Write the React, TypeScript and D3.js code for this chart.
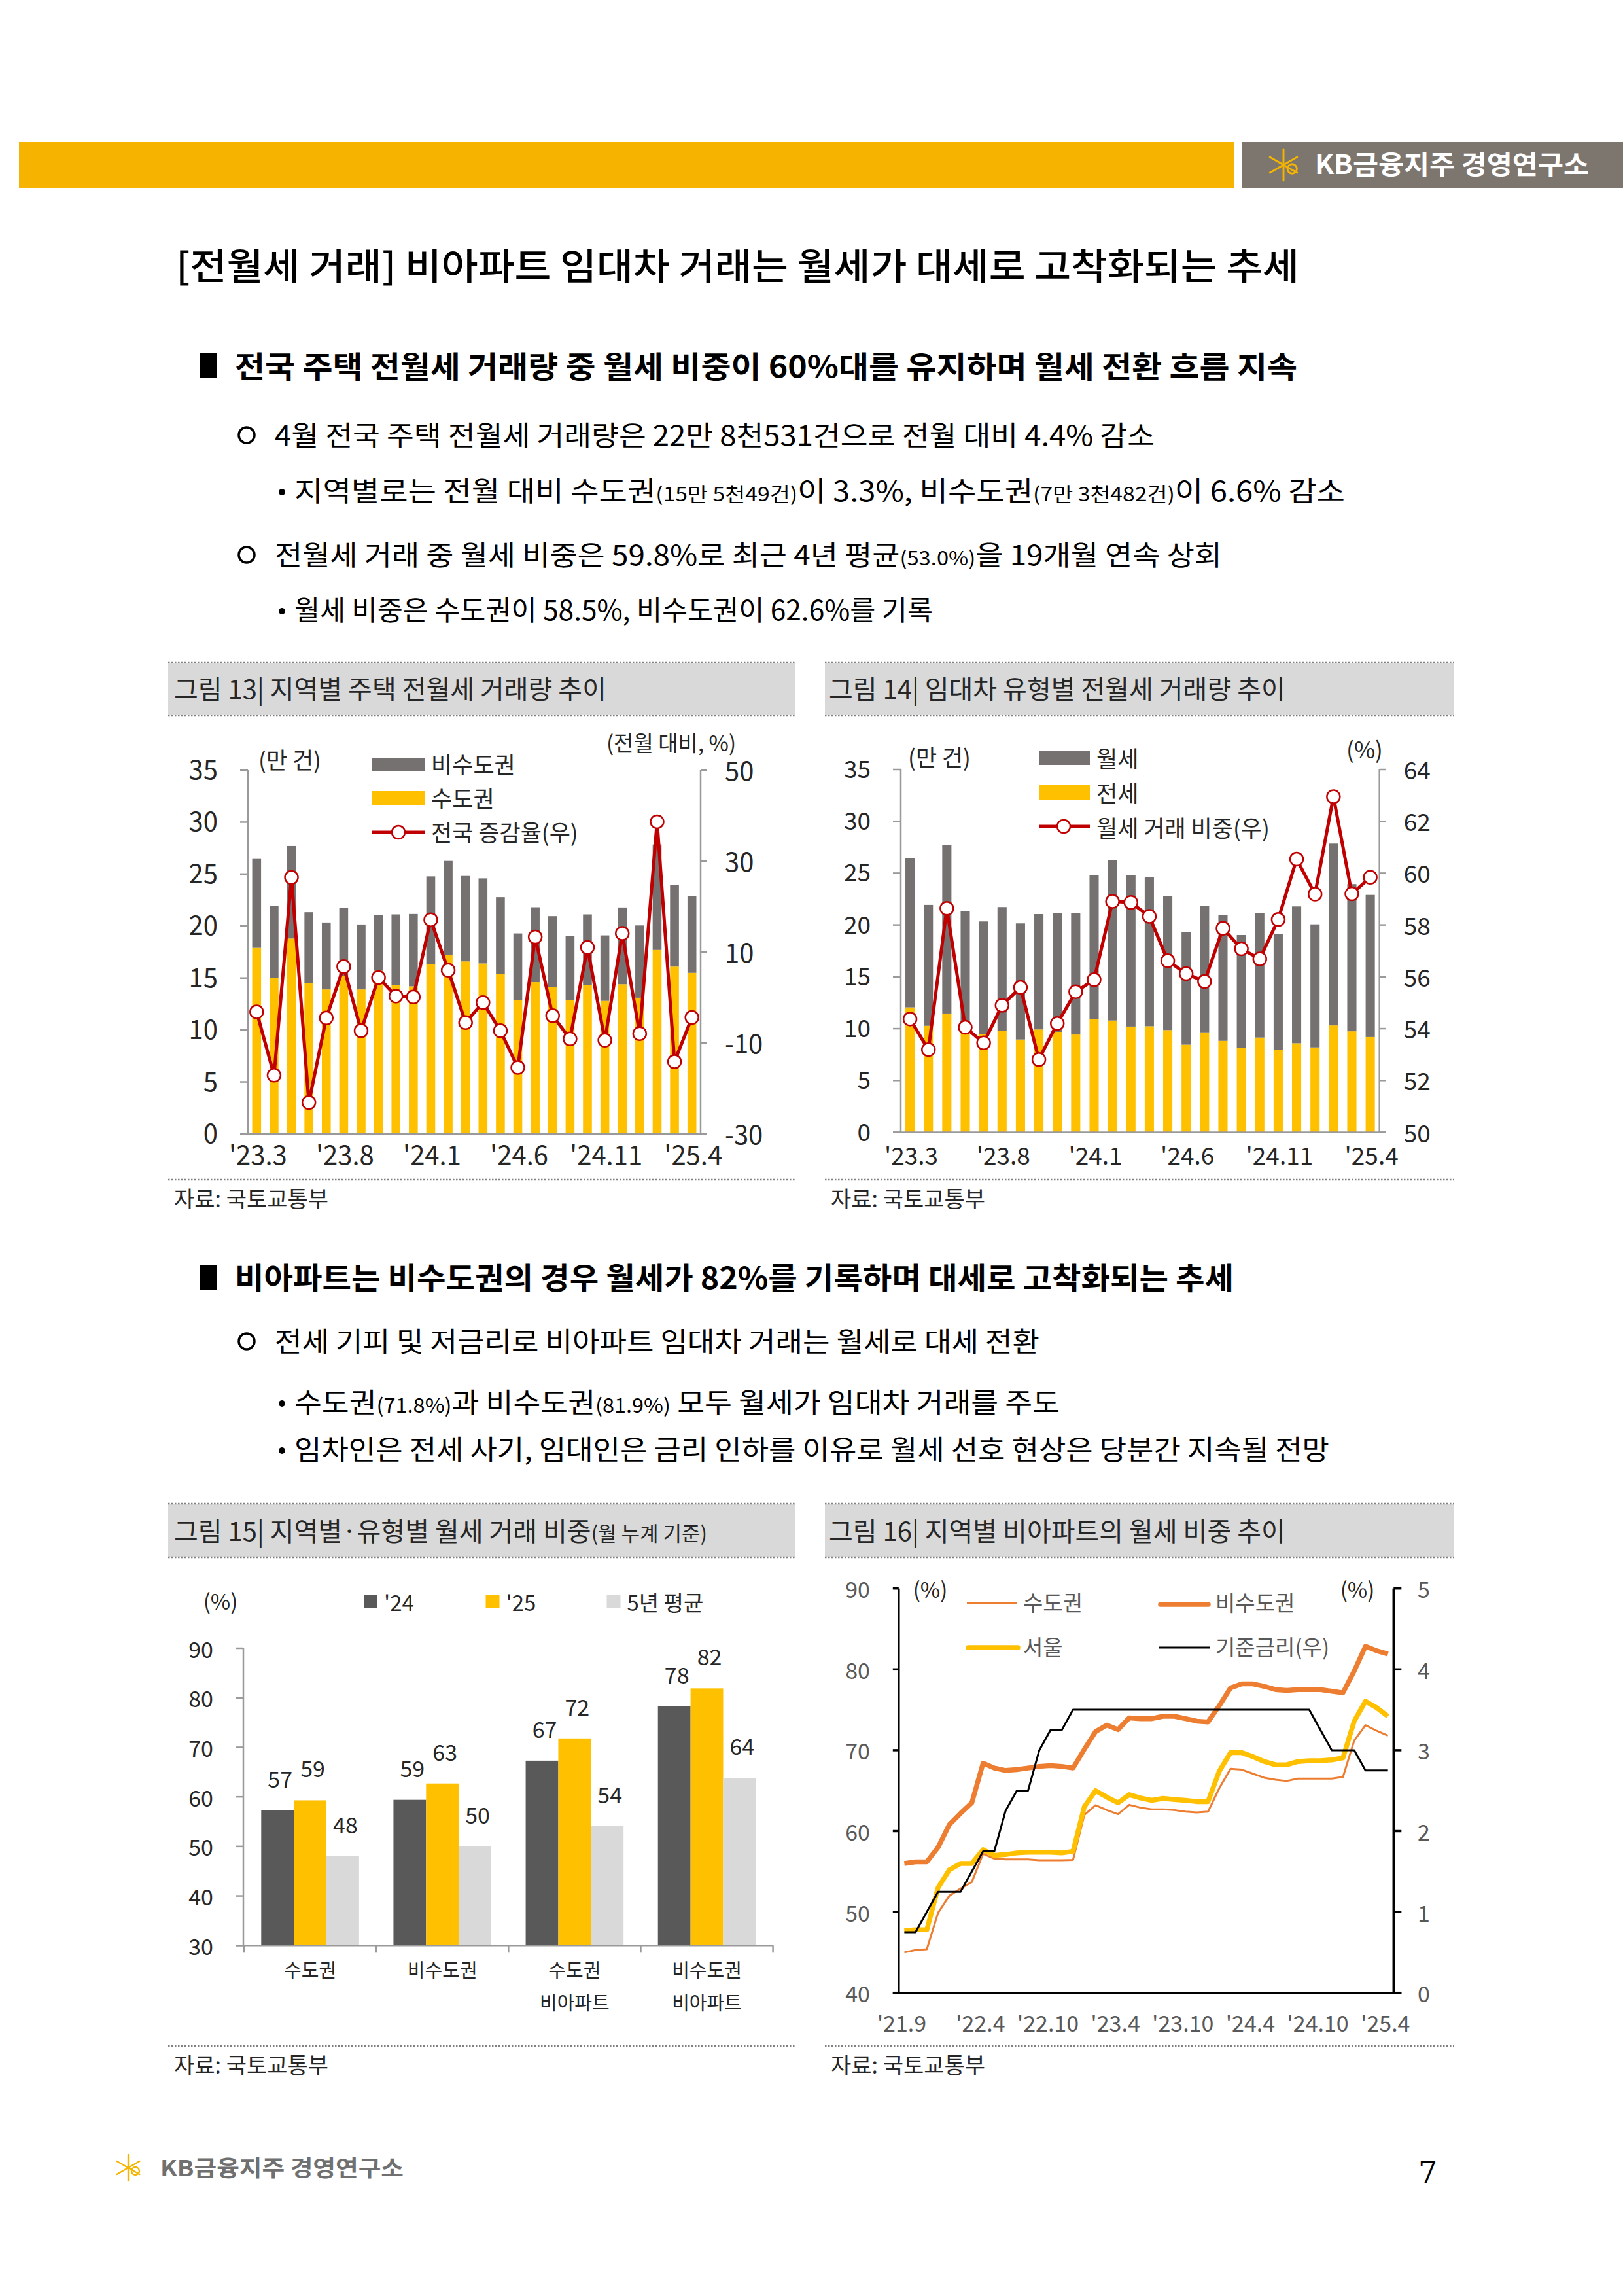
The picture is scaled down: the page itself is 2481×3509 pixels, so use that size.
import React, { useEffect } from 'react';
import * as d3 from 'd3';

const FONT = "'Noto Sans CJK KR', 'Noto Sans', sans-serif";

// ---------------- data: 그림 13 / 14 ----------------
const months13 = ["'23.3", "'23.4", "'23.5", "'23.6", "'23.7", "'23.8", "'23.9", "'23.10", "'23.11", "'23.12", "'24.1", "'24.2", "'24.3", "'24.4", "'24.5", "'24.6", "'24.7", "'24.8", "'24.9", "'24.10", "'24.11", "'24.12", "'25.1", "'25.2", "'25.3", "'25.4"];
const tickMonths13 = ["'23.3", "'23.8", "'24.1", "'24.6", "'24.11", "'25.4"];
// 만 건
const capitalDeals = [17.9, 15.0, 18.8, 14.5, 13.9, 15.2, 13.9, 15.7, 14.3, 14.2, 16.35, 17.2, 16.6, 16.4, 15.4, 12.9, 14.6, 14.1, 12.85, 14.35, 12.8, 14.4, 13.1, 17.7, 16.1, 15.5];
const nonCapitalDeals = [8.56, 6.94, 8.9, 6.83, 6.44, 6.53, 6.25, 5.35, 6.82, 6.96, 8.43, 9.07, 8.22, 8.19, 7.38, 6.39, 7.21, 6.85, 6.18, 6.77, 6.3, 7.39, 6.96, 10.15, 7.84, 7.35];
// 전월 대비 %
const nationalGrowth = [-3.15, -17.1, 26.4, -23.1, -4.5, 6.8, -7.3, 4.4, 0.3, 0.1, 17.1, 6.0, -5.5, -1.1, -7.3, -15.4, 13.3, -4.0, -9.1, 11.0, -9.4, 14.1, -7.95, 38.65, -14.1, -4.4];
// 그림 14
const jeonseDeals = [12.05, 10.27, 11.46, 9.8, 9.48, 9.79, 8.95, 9.92, 9.69, 9.43, 10.91, 10.78, 10.2, 10.23, 9.86, 8.45, 9.64, 8.82, 8.17, 9.14, 7.98, 8.59, 8.19, 10.31, 9.74, 9.19];
const wolseDeals = [14.41, 11.67, 16.24, 11.53, 10.86, 11.94, 11.2, 11.13, 11.43, 11.73, 13.87, 15.49, 14.62, 14.36, 12.92, 10.84, 12.17, 12.13, 10.86, 11.98, 11.12, 13.2, 11.87, 17.54, 14.2, 13.71];
const wolseShare = [54.37, 53.19, 58.64, 54.05, 53.45, 54.9, 55.59, 52.81, 54.2, 55.42, 55.89, 58.91, 58.87, 58.33, 56.62, 56.12, 55.82, 57.87, 57.08, 56.69, 58.21, 60.54, 59.19, 62.95, 59.2, 59.84];

// ---------------- data: 그림 15 ----------------
const cats15 = [['수도권'], ['비수도권'], ['수도권', '비아파트'], ['비수도권', '비아파트']];
const keys15 = ["'24", "'25", '5년 평균'];
const share24 = [57.3, 59.4, 67.3, 78.3];
const share25 = [59.3, 62.7, 71.8, 81.9];
const share5y = [48.0, 50.0, 54.1, 63.8];

// ---------------- data: 그림 16 ----------------
const months16 = ["'21.9", "'21.10", "'21.11", "'21.12", "'22.1", "'22.2", "'22.3", "'22.4", "'22.5", "'22.6", "'22.7", "'22.8", "'22.9", "'22.10", "'22.11", "'22.12", "'23.1", "'23.2", "'23.3", "'23.4", "'23.5", "'23.6", "'23.7", "'23.8", "'23.9", "'23.10", "'23.11", "'23.12", "'24.1", "'24.2", "'24.3", "'24.4", "'24.5", "'24.6", "'24.7", "'24.8", "'24.9", "'24.10", "'24.11", "'24.12", "'25.1", "'25.2", "'25.3", "'25.4"];
const tickMonths16 = ["'21.9", "'22.4", "'22.10", "'23.4", "'23.10", "'24.4", "'24.10", "'25.4"];
const capital16 = [45.0, 45.3, 45.4, 49.9, 52.0, 52.9, 53.7, 57.2, 56.6, 56.5, 56.5, 56.5, 56.4, 56.4, 56.4, 56.45, 62.0, 63.2, 62.6, 62.1, 63.25, 62.9, 62.7, 62.7, 62.6, 62.4, 62.3, 62.4, 65.3, 67.7, 67.6, 67.1, 66.6, 66.35, 66.2, 66.5, 66.5, 66.5, 66.5, 66.7, 71.2, 73.1, 72.4, 71.8];
const nonCapital16 = [56.0, 56.2, 56.2, 58.0, 60.8, 62.2, 63.5, 68.4, 67.8, 67.5, 67.6, 67.8, 68.0, 68.1, 68.0, 67.8, 70.1, 72.3, 73.1, 72.55, 74.0, 73.9, 73.9, 74.2, 74.2, 73.9, 73.6, 73.5, 75.5, 77.7, 78.2, 78.2, 77.9, 77.5, 77.4, 77.5, 77.5, 77.5, 77.3, 77.1, 79.8, 82.85, 82.3, 81.9];
const seoul16 = [47.7, 47.8, 47.8, 53.0, 55.2, 56.0, 56.0, 57.7, 57.0, 57.1, 57.3, 57.4, 57.4, 57.4, 57.3, 57.5, 63.0, 65.0, 64.2, 63.5, 64.5, 64.1, 63.8, 64.05, 63.9, 63.8, 63.65, 63.65, 67.4, 69.7, 69.7, 69.2, 68.6, 68.2, 68.2, 68.6, 68.7, 68.7, 68.8, 69.05, 73.6, 76.05, 75.25, 74.2];
const baseRate16 = [0.75, 0.75, 1.0, 1.25, 1.25, 1.25, 1.5, 1.75, 1.75, 2.25, 2.5, 2.5, 3.0, 3.25, 3.25, 3.5, 3.5, 3.5, 3.5, 3.5, 3.5, 3.5, 3.5, 3.5, 3.5, 3.5, 3.5, 3.5, 3.5, 3.5, 3.5, 3.5, 3.5, 3.5, 3.5, 3.5, 3.5, 3.25, 3.0, 3.0, 3.0, 2.75, 2.75, 2.75];

// ---------------- colors ----------------
const GRAY_BAR = '#767171';
const YELLOW = '#FFC000';
const RED = '#C00000';
const AXIS = '#9A9A9A';
const TXT = '#262626';
const ORANGE = '#ED7D31';

type ComboProps = {
  left: number; right: number; top: number; bottom: number;
  lower: number[]; upper: number[]; line: number[];
  rDomain: [number, number]; rTicks: number[];
  tickFont: number; pad: number; xLabelY: number;
};

function ComboChart(p: ComboProps) {
  const x = d3.scaleBand<string>().domain(months13).range([p.left, p.right]).paddingInner(p.pad).paddingOuter(p.pad / 2);
  const yL = d3.scaleLinear().domain([0, 35]).range([p.bottom, p.top]);
  const yR = d3.scaleLinear().domain(p.rDomain).range([p.bottom, p.top]);
  const rows = months13.map((m, i) => ({ m, lower: p.lower[i], upper: p.upper[i] }));
  const stacked = d3.stack<any>().keys(['lower', 'upper'])(rows);
  const cx = (m: string) => (x(m) as number) + x.bandwidth() / 2;
  const lineGen = d3.line<number>().x((_, i) => cx(months13[i])).y((v) => yR(v));
  const colors = [YELLOW, GRAY_BAR];
  return (
    <g fontFamily={FONT}>
      {stacked.map((s, si) => (
        <g key={si} fill={colors[si]}>
          {s.map((d: any, i: number) => (
            <rect key={i} x={x(months13[i])} width={x.bandwidth()} y={yL(d[1])} height={yL(d[0]) - yL(d[1])} />
          ))}
        </g>
      ))}
      <g stroke={AXIS} strokeWidth={2.5} fill="none">
        <line x1={p.left} x2={p.left} y1={p.top} y2={p.bottom} />
        <line x1={p.right} x2={p.right} y1={p.top} y2={p.bottom} />
        <line x1={p.left - 12} x2={p.right + 10} y1={p.bottom} y2={p.bottom} />
        {yL.ticks(7).map((t) => (
          <line key={'l' + t} x1={p.left - 12} x2={p.left} y1={yL(t)} y2={yL(t)} />
        ))}
        {p.rTicks.map((t) => (
          <line key={'r' + t} x1={p.right} x2={p.right + 10} y1={yR(t)} y2={yR(t)} />
        ))}
      </g>
      <g fontSize={p.tickFont} fill={TXT}>
        {yL.ticks(7).map((t) => (
          <text key={'lt' + t} x={p.left - 46} y={yL(t) - 3} textAnchor="end" dominantBaseline="central">{t}</text>
        ))}
        {p.rTicks.map((t) => (
          <text key={'rt' + t} x={p.right + 37} y={yR(t) - 1} textAnchor="start" dominantBaseline="central">{t}</text>
        ))}
        {tickMonths13.map((m) => (
          <text key={m} x={cx(m) + 2} y={p.xLabelY} textAnchor="middle">{m}</text>
        ))}
      </g>
      <path d={lineGen(p.line) || ''} fill="none" stroke={RED} strokeWidth={5} strokeLinejoin="round" />
      {p.line.map((v, i) => (
        <circle key={i} cx={cx(months13[i])} cy={yR(v)} r={10} fill="#fff" stroke={RED} strokeWidth={2.5} />
      ))}
    </g>
  );
}

function Chart15() {
  const left = 372, right = 1181.6, top = 2519, bottom = 2973.3;
  const x0 = d3.scaleBand<number>().domain(d3.range(cats15.length)).range([373, right]).paddingInner(0.26).paddingOuter(0.13);
  const x1 = d3.scaleBand<string>().domain(keys15).range([0, x0.bandwidth()]);
  const y = d3.scaleLinear().domain([30, 90]).range([bottom, top]);
  const series = [share24, share25, share5y];
  const colors = ['#595959', YELLOW, '#D9D9D9'];
  const fmt = d3.format('.0f');
  return (
    <g fontFamily={FONT}>
      {series.map((vals, si) => (
        <g key={si}>
          {vals.map((v, ci) => {
            const bx = (x0(ci) as number) + (x1(keys15[si]) as number);
            return (
              <g key={ci}>
                <rect x={bx} width={x1.bandwidth()} y={y(v)} height={y(30) - y(v)} fill={colors[si]} />
                <text x={bx + x1.bandwidth() / 2 + 4} y={y(v) - 35} textAnchor="middle" fontSize={34} fill={TXT}>{fmt(v)}</text>
              </g>
            );
          })}
        </g>
      ))}
      <g stroke={AXIS} strokeWidth={2.5}>
        <line x1={left} x2={left} y1={top} y2={bottom} />
        <line x1={left - 11} x2={right} y1={bottom} y2={bottom} />
        {y.ticks(6).map((t) => <line key={t} x1={left - 11} x2={left} y1={y(t)} y2={y(t)} />)}
        {d3.range(cats15.length + 1).map((i) => {
          const bx = i < cats15.length ? (x0(i) as number) - x0.step() * 0.13 : right;
          return <line key={'c' + i} x1={bx} x2={bx} y1={bottom} y2={bottom + 11} />;
        })}
      </g>
      <g fontSize={34} fill={TXT}>
        {y.ticks(6).map((t) => (
          <text key={t} x={326} y={y(t)} textAnchor="end" dominantBaseline="central">{t}</text>
        ))}
      </g>
      <g fontSize={29} fill={TXT}>
        {cats15.map((lines, ci) => (
          <text key={ci} x={(x0(ci) as number) + x0.bandwidth() / 2} y={3022} textAnchor="middle">
            {lines.map((l, li) => (
              <tspan key={li} x={(x0(ci) as number) + x0.bandwidth() / 2} y={3022 + li * 50}>{l}</tspan>
            ))}
          </text>
        ))}
      </g>
      <g fontSize={33} fill={TXT}>
        <text x={337} y={2446} textAnchor="middle" dominantBaseline="central">(%)</text>
        {keys15.map((k, i) => {
          const lx = [556, 742.5, 927.5][i];
          return (
            <g key={k}>
              <rect x={lx} y={2438} width={21} height={20} fill={colors[i]} />
              <text x={lx + 31} y={2448} dominantBaseline="central">{k}</text>
            </g>
          );
        })}
      </g>
    </g>
  );
}

function Chart16() {
  const left = 1373.8, right = 2130.3, top = 2427.7, bottom = 3045.7;
  const x = d3.scaleBand<string>().domain(months16).range([left, right]);
  const cx = (m: string) => (x(m) as number) + x.bandwidth() / 2;
  const yL = d3.scaleLinear().domain([40, 90]).range([bottom, top]);
  const yR = d3.scaleLinear().domain([0, 5]).range([bottom, top]);
  const lineL = d3.line<number>().x((_, i) => cx(months16[i])).y((v) => yL(v));
  const lineR = d3.line<number>().x((_, i) => cx(months16[i])).y((v) => yR(v));
  const LG = '#595959';
  return (
    <g fontFamily={FONT}>
      <path d={lineL(capital16) || ''} fill="none" stroke={ORANGE} strokeWidth={3} strokeLinejoin="round" />
      <path d={lineL(nonCapital16) || ''} fill="none" stroke={ORANGE} strokeWidth={7.5} strokeLinejoin="round" />
      <path d={lineL(seoul16) || ''} fill="none" stroke={YELLOW} strokeWidth={7.5} strokeLinejoin="round" />
      <path d={lineR(baseRate16) || ''} fill="none" stroke="#000" strokeWidth={3} strokeLinejoin="round" />
      <g stroke="#000" strokeWidth={3.5}>
        <line x1={left} x2={left} y1={top} y2={bottom} />
        <line x1={right} x2={right} y1={top} y2={bottom} />
        <line x1={left - 9} x2={right + 12} y1={bottom} y2={bottom} />
        {yL.ticks(5).map((t) => <line key={'l' + t} x1={left - 9} x2={left} y1={yL(t)} y2={yL(t)} />)}
        {yR.ticks(5).map((t) => <line key={'r' + t} x1={right} x2={right + 12} y1={yR(t)} y2={yR(t)} />)}
      </g>
      <g fontSize={34} fill={LG}>
        {yL.ticks(5).map((t) => (
          <text key={'lt' + t} x={1330} y={yL(t)} textAnchor="end" dominantBaseline="central">{t}</text>
        ))}
        {yR.ticks(5).map((t) => (
          <text key={'rt' + t} x={2167} y={yR(t)} textAnchor="start" dominantBaseline="central">{t}</text>
        ))}
        {tickMonths16.map((m) => (
          <text key={m} x={cx(m) - 4} y={3105} textAnchor="middle">{m}</text>
        ))}
      </g>
      <g fontSize={33} fill={LG}>
        <text x={1422} y={2428} textAnchor="middle" dominantBaseline="central" fill={TXT}>(%)</text>
        <text x={2075} y={2428} textAnchor="middle" dominantBaseline="central" fill={TXT}>(%)</text>
        <line x1={1478} x2={1555} y1={2450} y2={2450} stroke={ORANGE} strokeWidth={3} />
        <text x={1564} y={2448} dominantBaseline="central">수도권</text>
        <line x1={1774} x2={1847} y1={2452} y2={2452} stroke={ORANGE} strokeWidth={7.5} strokeLinecap="round" />
        <text x={1858} y={2448} dominantBaseline="central">비수도권</text>
        <line x1={1480} x2={1556} y1={2518} y2={2518} stroke={YELLOW} strokeWidth={7.5} strokeLinecap="round" />
        <text x={1564} y={2516} dominantBaseline="central">서울</text>
        <line x1={1771} x2={1849} y1={2518} y2={2518} stroke="#000" strokeWidth={3} />
        <text x={1858} y={2516} dominantBaseline="central">기준금리(우)</text>
      </g>
    </g>
  );
}

function TitleBox({ x, w, y, children }: { x: number; w: number; y: number; children: React.ReactNode }) {
  return (
    <g>
      <rect x={x} y={y} width={w} height={80} fill="#D9D9D9" />
      <line x1={x} x2={x + w} y1={y - 1} y2={y - 1} stroke="#7F7F7F" strokeWidth={2.5} strokeDasharray="2.5 2.5" />
      <line x1={x} x2={x + w} y1={y + 81} y2={y + 81} stroke="#7F7F7F" strokeWidth={2.5} strokeDasharray="2.5 2.5" />
      {children}
    </g>
  );
}

function SourceLine({ x, w, y }: { x: number; w: number; y: number }) {
  return (
    <g>
      <line x1={x} x2={x + w} y1={y} y2={y} stroke="#7F7F7F" strokeWidth={2.5} strokeDasharray="2.5 2.5" />
      <text x={x + 9} y={y + 42} fontSize={34} fill={TXT} fontFamily={FONT}>자료: 국토교통부</text>
    </g>
  );
}

function Star({ cx, cy, s }: { cx: number; cy: number; s: number }) {
  const angles = [90, 30, -30];
  return (
    <g stroke="#F4B400" strokeWidth={s * 0.12} strokeLinecap="round" fill="none">
      {angles.map((a) => {
        const r = (a * Math.PI) / 180;
        return <line key={a} x1={cx - Math.cos(r) * s} y1={cy - Math.sin(r) * s} x2={cx + Math.cos(r) * s} y2={cy + Math.sin(r) * s} />;
      })}
      <circle cx={cx + s * 0.55} cy={cy + s * 0.25} r={s * 0.3} />
    </g>
  );
}

export default function App() {
  useEffect(() => {
    document.body.style.margin = '0';
    document.body.style.overflow = 'hidden';
  }, []);
  const small = 30;
  return (
    <svg width={2481} height={3509} viewBox="0 0 2481 3509" style={{ display: 'block', background: '#fff' }} fontFamily={FONT}>
      <rect x={0} y={0} width={2481} height={3509} fill="#fff" />
      {/* header band */}
      <rect x={29} y={217} width={1858} height={71} fill="#F6B400" />
      <rect x={1899} y={217} width={582} height={71} fill="#7D766E" />
      <Star cx={1962} cy={252} s={24} />
      <text x={2010} y={266} fontSize={40} fontWeight={700} fill="#fff" textLength={419} lengthAdjust="spacingAndGlyphs">KB금융지주 경영연구소</text>

      {/* page title */}
      <text x={269} y={427} fontSize={56} fontWeight={500} fill="#000" textLength={1717} lengthAdjust="spacingAndGlyphs">[전월세 거래] 비아파트 임대차 거래는 월세가 대세로 고착화되는 추세</text>

      {/* section 1 */}
      <rect x={305} y={540} width={27} height={38} fill="#000" />
      <text x={359} y={577} fontSize={46} fontWeight={700} fill="#000" textLength={1624} lengthAdjust="spacingAndGlyphs">전국 주택 전월세 거래량 중 월세 비중이 60%대를 유지하며 월세 전환 흐름 지속</text>
      <circle cx={377} cy={665} r={12} fill="none" stroke="#000" strokeWidth={3.5} />
      <text x={420} y={681} fontSize={42} fill="#000" textLength={1345} lengthAdjust="spacingAndGlyphs">4월 전국 주택 전월세 거래량은 22만 8천531건으로 전월 대비 4.4% 감소</text>
      <circle cx={431} cy={752} r={5} fill="#000" />
      <text x={450} y={766} fontSize={42} fill="#000" textLength={1606} lengthAdjust="spacingAndGlyphs">지역별로는 전월 대비 수도권<tspan fontSize={small}>(15만 5천49건)</tspan>이 3.3%, 비수도권<tspan fontSize={small}>(7만 3천482건)</tspan>이 6.6% 감소</text>
      <circle cx={377} cy={848} r={12} fill="none" stroke="#000" strokeWidth={3.5} />
      <text x={420} y={864} fontSize={42} fill="#000" textLength={1448} lengthAdjust="spacingAndGlyphs">전월세 거래 중 월세 비중은 59.8%로 최근 4년 평균<tspan fontSize={small}>(53.0%)</tspan>을 19개월 연속 상회</text>
      <circle cx={431} cy={934} r={5} fill="#000" />
      <text x={450} y={948} fontSize={42} fill="#000" textLength={976} lengthAdjust="spacingAndGlyphs">월세 비중은 수도권이 58.5%, 비수도권이 62.6%를 기록</text>

      {/* chart 13 */}
      <TitleBox x={257} w={958} y={1013}>
        <text x={266} y={1068} fontSize={40} fill={TXT}>그림 13| 지역별 주택 전월세 거래량 추이</text>
      </TitleBox>
      <ComboChart left={379} right={1071} top={1177} bottom={1733} lower={capitalDeals} upper={nonCapitalDeals} line={nationalGrowth}
        rDomain={[-30, 50]} rTicks={[-30, -10, 10, 30, 50]} tickFont={40} pad={0.49} xLabelY={1780} />
      <g fontSize={35} fill={TXT}>
        <text x={443} y={1159} textAnchor="middle" dominantBaseline="central">(만 건)</text>
        <text x={1026} y={1134} textAnchor="middle" dominantBaseline="central" fontSize={33}>(전월 대비, %)</text>
        <rect x={569} y={1158} width={81} height={21} fill={GRAY_BAR} />
        <text x={659} y={1166} dominantBaseline="central">비수도권</text>
        <rect x={569} y={1209} width={81} height={22} fill={YELLOW} />
        <text x={659} y={1218} dominantBaseline="central">수도권</text>
        <line x1={569} x2={650} y1={1272} y2={1272} stroke={RED} strokeWidth={5} />
        <circle cx={609} cy={1272} r={10} fill="#fff" stroke={RED} strokeWidth={2.5} />
        <text x={659} y={1270} dominantBaseline="central">전국 증감율(우)</text>
      </g>
      <SourceLine x={257} w={958} y={1803} />

      {/* chart 14 */}
      <TitleBox x={1261} w={962} y={1013}>
        <text x={1267} y={1068} fontSize={40} fill={TXT}>그림 14| 임대차 유형별 전월세 거래량 추이</text>
      </TitleBox>
      <ComboChart left={1377} right={2108.7} top={1176} bottom={1730.5} lower={jeonseDeals} upper={wolseDeals} line={wolseShare}
        rDomain={[50, 64]} rTicks={[50, 52, 54, 56, 58, 60, 62, 64]} tickFont={37} pad={0.5} xLabelY={1780} />
      <g fontSize={35} fill={TXT}>
        <text x={1436} y={1155} textAnchor="middle" dominantBaseline="central">(만 건)</text>
        <text x={2086} y={1143} textAnchor="middle" dominantBaseline="central">(%)</text>
        <rect x={1588} y={1147} width={78} height={22} fill={GRAY_BAR} />
        <text x={1676} y={1157} dominantBaseline="central">월세</text>
        <rect x={1588} y={1200} width={78} height={22} fill={YELLOW} />
        <text x={1676} y={1210} dominantBaseline="central">전세</text>
        <line x1={1588} x2={1666} y1={1263} y2={1263} stroke={RED} strokeWidth={5} />
        <circle cx={1626} cy={1263} r={10} fill="#fff" stroke={RED} strokeWidth={2.5} />
        <text x={1676} y={1263} dominantBaseline="central">월세 거래 비중(우)</text>
      </g>
      <SourceLine x={1261} w={962} y={1803} />

      {/* section 2 */}
      <rect x={305} y={1933} width={27} height={39} fill="#000" />
      <text x={359} y={1970} fontSize={46} fontWeight={700} fill="#000" textLength={1527} lengthAdjust="spacingAndGlyphs">비아파트는 비수도권의 경우 월세가 82%를 기록하며 대세로 고착화되는 추세</text>
      <circle cx={377} cy={2050} r={12} fill="none" stroke="#000" strokeWidth={3.5} />
      <text x={420} y={2066} fontSize={42} fill="#000" textLength={1169} lengthAdjust="spacingAndGlyphs">전세 기피 및 저금리로 비아파트 임대차 거래는 월세로 대세 전환</text>
      <circle cx={431} cy={2145} r={5} fill="#000" />
      <text x={450} y={2159} fontSize={42} fill="#000" textLength={1170} lengthAdjust="spacingAndGlyphs">수도권<tspan fontSize={small}>(71.8%)</tspan>과 비수도권<tspan fontSize={small}>(81.9%)</tspan> 모두 월세가 임대차 거래를 주도</text>
      <circle cx={431} cy={2217} r={5} fill="#000" />
      <text x={450} y={2231} fontSize={42} fill="#000" textLength={1582} lengthAdjust="spacingAndGlyphs">임차인은 전세 사기, 임대인은 금리 인하를 이유로 월세 선호 현상은 당분간 지속될 전망</text>

      {/* chart 15 */}
      <TitleBox x={257} w={958} y={2299}>
        <text x={266} y={2355} fontSize={40} fill={TXT}>그림 15| 지역별·유형별 월세 거래 비중<tspan fontSize={31}>(월 누계 기준)</tspan></text>
      </TitleBox>
      <Chart15 />
      <SourceLine x={257} w={958} y={3127} />

      {/* chart 16 */}
      <TitleBox x={1261} w={962} y={2299}>
        <text x={1267} y={2355} fontSize={40} fill={TXT}>그림 16| 지역별 비아파트의 월세 비중 추이</text>
      </TitleBox>
      <Chart16 />
      <SourceLine x={1261} w={962} y={3127} />

      {/* footer */}
      <Star cx={196} cy={3313} s={20} />
      <text x={245} y={3326} fontSize={34} fontWeight={700} fill="#707070" textLength={372} lengthAdjust="spacingAndGlyphs">KB금융지주 경영연구소</text>
      <text x={2168} y={3336} fontSize={46} fill="#000" fontFamily="'DejaVu Serif', 'Liberation Serif', serif">7</text>
    </svg>
  );
}
